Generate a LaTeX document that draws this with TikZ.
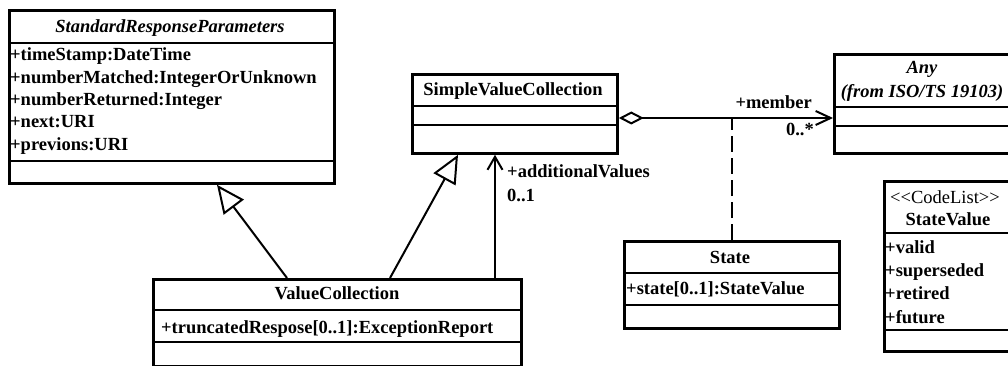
\documentclass[tikz,border=0pt]{standalone}
\usepackage{fontspec}
\setmainfont{Liberation Serif}
\usetikzlibrary{arrows.meta}

\begin{document}
\begin{tikzpicture}[x=1pt, y=-1pt,
    every node/.style={font=\fontsize{18.5pt}{22pt}\selectfont\bfseries, inner sep=0pt},
    umlbox/.style={draw, line width=2.8pt, anchor=north west, minimum width=#1},
    divider/.style={line width=1.6pt},
    txt/.style={anchor=base west},
    ctitle/.style={anchor=base},
    ititle/.style={anchor=base, font=\fontsize{18.5pt}{22pt}\selectfont\bfseries\itshape},
    conn/.style={line width=2pt},
    gen/.style={conn, -{Triangle[open, fill=white, length=28pt, width=25pt]}},
    nav/.style={conn, -{Straight Barb[length=13pt, width=15pt]}},
    agg/.style={conn, {Diamond[open, fill=white, length=25pt, width=13pt]}-{Straight Barb[length=15pt, width=14pt]}},
    realize/.style={conn, dash pattern=on 16pt off 6pt}]

\useasboundingbox (0,0) rectangle (1008,366);
\fill[white] (0,0) rectangle (1008,366);
\clip (0,0) rectangle (1008,366);

% --- class boxes ---
\node[umlbox=325pt, minimum height=173pt] (srp) at (8,9) {};
\node[umlbox=205pt, minimum height=79pt]  (svc) at (411,73) {};
\node[umlbox=180pt, minimum height=99pt]  (any) at (833,53) {};
\node[umlbox=215pt, minimum height=87pt]  (state) at (623,240) {};
\node[umlbox=130pt, minimum height=170pt] (sv) at (883,180) {};
\node[umlbox=368pt, minimum height=87pt]  (vc) at (152,278) {};

% compartment dividers
\foreach \b/\d in {srp/34, srp/152, svc/33, svc/52, any/54, any/73,
                   state/33, state/65, sv/53, sv/150, vc/32, vc/64}
  \draw[divider] ([yshift=-\d pt]\b.north west) -- ([yshift=-\d pt]\b.north east);

% --- StandardResponseParameters ---
\node[ititle] (srpT) at (170,33) {StandardResponseParameters};
\node[txt] (srpA1) at (10,61)  {+timeStamp:DateTime};
\node[txt] (srpA2) at (10,84)  {+numberMatched:IntegerOrUnknown};
\node[txt] (srpA3) at (10,106) {+numberReturned:Integer};
\node[txt] (srpA4) at (10,128) {+next:URI};
\node[txt] (srpA5) at (10,151) {+previons:URI};

% --- SimpleValueCollection ---
\node[ctitle] (svcT) at (513,96) {SimpleValueCollection};

% --- Any ---
\node[ititle] (anyT1) at (922,74) {Any};
\node[ititle] (anyT2) at (922,98) {(from ISO/TS 19103)};

% --- State ---
\node[ctitle] (stateT) at (730,263) {State};
\node[txt] (stateA) at (626,294) {+state[0..1]:StateValue};

% --- StateValue code list ---
\node[ctitle, font=\fontsize{18.5pt}{22pt}\selectfont] (svS) at (945,204) {<{}<CodeList>{}>};
\node[ctitle] (svT) at (948,225) {StateValue};
\node[txt] (sv1) at (885,253) {+valid};
\node[txt] (sv2) at (885,276) {+superseded};
\node[txt] (sv3) at (885,299) {+retired};
\node[txt] (sv4) at (885,323) {+future};

% --- ValueCollection ---
\node[ctitle] (vcT) at (337,299) {ValueCollection};
\node[txt] (vcA) at (161,333) {+truncatedRespose[0..1]:ExceptionReport};

% --- generalizations ---
\draw[gen] ([xshift=135pt]vc.north west) -- ([xshift=209pt]srp.south west);
\draw[gen] ([xshift=238pt]vc.north west) -- ([xshift=47pt]svc.south west);

% --- navigable association with role ---
\draw[nav] ([xshift=343pt]vc.north west) -- ([xshift=84pt]svc.south west);
\node[txt] (addV) at (507,178) {+additionalValues};
\node[txt] (addM) at (507,201) {0..1};

% --- aggregation to Any ---
\draw[agg] ([yshift=-45pt]svc.north east) -- ([yshift=-65pt]any.north west);
\node[anchor=base east] (memR) at (812,109) {+member};
\node[anchor=base east] (memM) at (814,136) {0..*};

% --- association class link ---
\coordinate (aggMid) at (state.north |- any.north west);
\draw[realize] (state.north) -- ([yshift=-65pt]aggMid);

\end{tikzpicture}
\end{document}
